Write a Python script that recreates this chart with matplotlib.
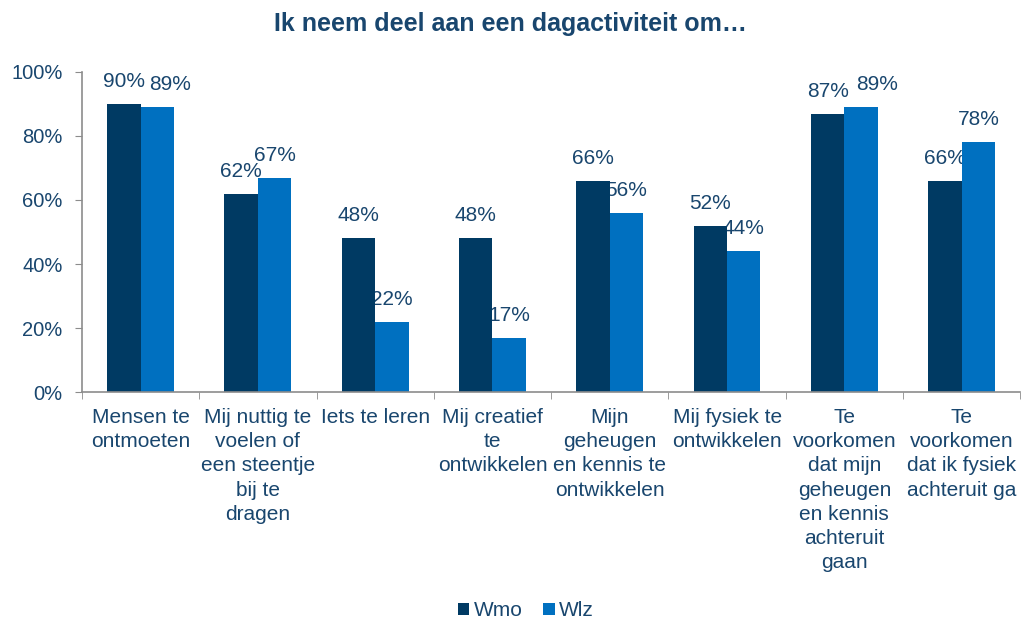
import matplotlib
matplotlib.use("Agg")
import matplotlib.pyplot as plt
import numpy as np

categories = ["Mensen te\nontmoeten",
              "Mij nuttig te\nvoelen of\neen steentje\nbij te\ndragen",
              "Iets te leren",
              "Mij creatief\nte\nontwikkelen",
              "Mijn\ngeheugen\nen kennis te\nontwikkelen",
              "Mij fysiek te\nontwikkelen",
              "Te\nvoorkomen\ndat mijn\ngeheugen\nen kennis\nachteruit\ngaan",
              "Te\nvoorkomen\ndat ik fysiek\nachteruit ga"]
wmo = [90, 62, 48, 48, 66, 52, 87, 66]
wlz = [89, 67, 22, 17, 56, 44, 89, 78]
yticks = [0, 20, 40, 60, 80, 100]
# horizontal nudges of some Wlz value labels (as in the reference)
wlz_label_shift = [0.11, 0, 0, 0, 0, 0, 0.14, 0]

plt.rcParams['font.family'] = ['Liberation Sans', 'DejaVu Sans']
txt = '#19466E'
c_wmo = '#003A63'
c_wlz = '#0070C0'

fig = plt.figure(figsize=(10.21, 6.19), dpi=100)
ax = fig.add_axes([0.0803, 0.3667, 0.919, 0.517])

x = np.arange(len(categories))
w = 0.285
b1 = ax.bar(x - w/2, wmo, w, color=c_wmo, label='Wmo', zorder=2)
b2 = ax.bar(x + w/2, wlz, w, color=c_wlz, label='Wlz', zorder=2)
for bars, vals, shifts in ((b1, wmo, [0]*len(wmo)), (b2, wlz, wlz_label_shift)):
    for r, v, s in zip(bars, vals, shifts):
        ax.text(r.get_x() + r.get_width()/2 + s, v + 5.3, f"{v}%", ha='center', va='baseline',
                fontsize=15, color=txt, zorder=1)

ax.set_xlim(-0.5, len(categories) - 0.5)
ax.set_ylim(0, 100)
ax.set_yticks(yticks)
ax.set_yticklabels([f"{t}%" for t in yticks], fontsize=14.5, color=txt)
ax.set_xticks(x)
ax.set_xticklabels(categories, fontsize=15, color=txt, va='top', linespacing=1.345)
ax.set_xticks(np.arange(len(categories) + 1) - 0.5, minor=True)
ax.tick_params(axis='x', which='major', length=0, pad=11.5)
ax.tick_params(axis='x', which='minor', length=5, color='#8C8C8C', direction='out')
ax.tick_params(axis='y', length=5, color='#8C8C8C', pad=9)
for s in ('top', 'right'):
    ax.spines[s].set_visible(False)
for s in ('left', 'bottom'):
    ax.spines[s].set_color('#8C8C8C')
    ax.spines[s].set_linewidth(1.2)

fig.text(0.5, 0.962, "Ik neem deel aan een dagactiviteit om…", ha='center', va='center',
         fontsize=18, fontweight='bold', color=txt)
fig.legend(handles=[b1, b2], labels=['Wmo', 'Wlz'], loc='center', bbox_to_anchor=(0.515, 0.013),
           ncol=2, frameon=False, fontsize=15, labelcolor=txt, handlelength=0.55,
           handleheight=0.55, handletextpad=0.2, columnspacing=1.0)

fig.savefig('out.png', dpi=100)
